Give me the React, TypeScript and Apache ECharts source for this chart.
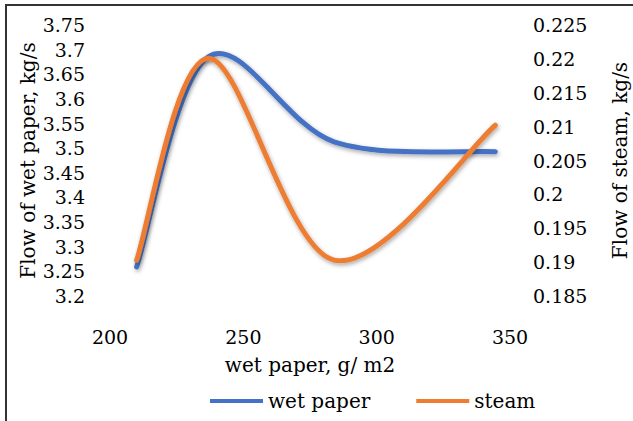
import React, { useEffect, useRef } from "react";
import * as echarts from "echarts";

const xValues = [210, 237, 284, 344.5];
const wetPaper = [3.259, 3.686, 3.513, 3.493];
const steam = [0.1903, 0.2201, 0.1903, 0.2102];
const leftTicks = [3.2, 3.75, 0.05];
const rightTicks = [0.185, 0.225, 0.005];
const xTicks = [200, 350, 50];

const FONT = "DejaVu Serif";
const BLUE = "#4472C4";
const ORANGE = "#ED7D31";

// Excel-like smoothed line (Catmull-Rom, tension 1/6) through pixel points
function smoothPath(pts: number[][]): string {
  let d = `M${pts[0][0]},${pts[0][1]}`;
  const n = pts.length;
  for (let i = 0; i < n - 1; i++) {
    const p0 = pts[Math.max(i - 1, 0)];
    const p1 = pts[i];
    const p2 = pts[i + 1];
    const p3 = pts[Math.min(i + 2, n - 1)];
    const c1x = p1[0] + (p2[0] - p0[0]) / 6;
    const c1y = p1[1] + (p2[1] - p0[1]) / 6;
    const c2x = p2[0] - (p3[0] - p1[0]) / 6;
    const c2y = p2[1] - (p3[1] - p1[1]) / 6;
    d += ` C${c1x},${c1y} ${c2x},${c2y} ${p2[0]},${p2[1]}`;
  }
  return d;
}

function makeRender(xs: number[], ys: number[], color: string) {
  return (params: any, api: any) => {
    if (params.dataIndex !== 0) return null;
    const pts = xs.map((x, i) => api.coord([x, ys[i]]));
    return {
      type: "path",
      shape: { pathData: smoothPath(pts) },
      style: {
        fill: "none",
        stroke: color,
        lineWidth: 5,
        lineCap: "round",
        lineJoin: "round",
        shadowColor: "rgba(0,0,0,0.35)",
        shadowBlur: 4,
        shadowOffsetX: 1,
        shadowOffsetY: 2,
      },
    };
  };
}

export default function App() {
  const ref = useRef<HTMLDivElement>(null);
  useEffect(() => {
    document.body.style.margin = "0";
    const chart = echarts.init(ref.current!, null, { renderer: "svg" });
    const fmt = (v: number) => String(parseFloat(v.toFixed(4)));
    chart.setOption({
      animation: false,
      backgroundColor: "#fff",
      color: [BLUE, ORANGE],
      textStyle: { fontFamily: FONT, color: "#000" },
      grid: {
        left: 110,
        right: 123,
        top: 25,
        bottom: 125,
        containLabel: false,
        outerBoundsMode: "none",
      },
      graphic: [
        { type: "line", shape: { x1: 6, y1: 5, x2: 6, y2: 421 }, style: { stroke: "#333", lineWidth: 2 } },
        { type: "line", shape: { x1: 5, y1: 5, x2: 633, y2: 5 }, style: { stroke: "#333", lineWidth: 2 } },
      ],
      legend: {
        left: 205,
        top: 386,
        icon: "rect",
        itemWidth: 53,
        itemHeight: 4,
        itemGap: 46,
        textStyle: { fontFamily: FONT, fontSize: 20, color: "#000" },
        data: ["wet paper", "steam"],
      },
      xAxis: {
        type: "value",
        min: xTicks[0],
        max: xTicks[1],
        interval: xTicks[2],
        name: "wet paper, g/ m2",
        nameLocation: "middle",
        nameGap: 59,
        nameMoveOverlap: false,
        nameTextStyle: { fontFamily: FONT, fontSize: 20, color: "#000" },
        axisLine: { show: false },
        axisTick: { show: false },
        splitLine: { show: false },
        axisLabel: { margin: 31, fontFamily: FONT, fontSize: 19, color: "#000" },
      },
      yAxis: [
        {
          type: "value",
          min: leftTicks[0],
          max: leftTicks[1],
          interval: leftTicks[2],
          name: "Flow of wet paper, kg/s",
          nameLocation: "middle",
          nameGap: 72,
          nameMoveOverlap: false,
          nameTextStyle: { fontFamily: FONT, fontSize: 20, color: "#000" },
          axisLine: { show: false },
          axisTick: { show: false },
          splitLine: { show: false },
          axisLabel: { margin: 25, fontFamily: FONT, fontSize: 19, color: "#000", formatter: fmt },
        },
        {
          type: "value",
          position: "right",
          min: rightTicks[0],
          max: rightTicks[1],
          interval: rightTicks[2],
          name: "Flow of steam, kg/s",
          nameLocation: "middle",
          nameGap: 100,
          nameMoveOverlap: false,
          nameTextStyle: { fontFamily: FONT, fontSize: 20, color: "#000" },
          axisLine: { show: false },
          axisTick: { show: false },
          splitLine: { show: false },
          axisLabel: { margin: 23, fontFamily: FONT, fontSize: 19, color: "#000", formatter: fmt },
        },
      ],
      series: [
        {
          name: "wet paper",
          type: "custom",
          yAxisIndex: 0,
          encode: { x: 0, y: 1 },
          data: xValues.map((x, i) => [x, wetPaper[i]]),
          itemStyle: { color: BLUE },
          renderItem: makeRender(xValues, wetPaper, BLUE),
        },
        {
          name: "steam",
          type: "custom",
          yAxisIndex: 1,
          encode: { x: 0, y: 1 },
          data: xValues.map((x, i) => [x, steam[i]]),
          itemStyle: { color: ORANGE },
          renderItem: makeRender(xValues, steam, ORANGE),
        },
      ],
    });
    return () => chart.dispose();
  }, []);
  return <div ref={ref} style={{ width: 633, height: 421 }} />;
}
